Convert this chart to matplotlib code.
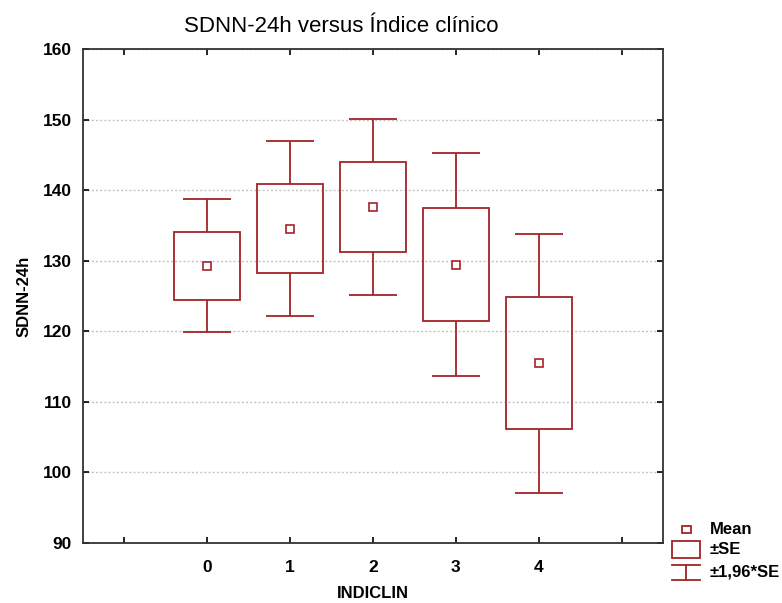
import numpy as np
import matplotlib
matplotlib.use('Agg')
import matplotlib.pyplot as plt
from matplotlib.patches import Rectangle

# Datos
grupos = [0, 1, 2, 3, 4]
medias = [129.3, 134.55, 137.6, 129.45, 115.45]
se = [4.8, 6.35, 6.35, 8.05, 9.35]
factor = 1.96

rojo = '#a32428'

plt.rcParams['font.family'] = ['Liberation Sans', 'DejaVu Sans']

fig = plt.figure(figsize=(7.82, 6.03), dpi=100)
ax = fig.add_axes([83 / 782, 1 - 543 / 603, 580 / 782, 494 / 603])

x = np.array(grupos, dtype=float)
m = np.array(medias)
s = np.array(se)

# caja +-SE
ax.bar(x, 2 * s, bottom=m - s, width=0.8, fill=False, edgecolor=rojo, linewidth=1.3, zorder=3)
# bigotes +-1.96*SE
ax.vlines(x, m + s, m + factor * s, color=rojo, linewidth=1.3, zorder=3)
ax.vlines(x, m - factor * s, m - s, color=rojo, linewidth=1.3, zorder=3)
ax.hlines(m + factor * s, x - 0.29, x + 0.29, color=rojo, linewidth=1.3, zorder=3)
ax.hlines(m - factor * s, x - 0.29, x + 0.29, color=rojo, linewidth=1.3, zorder=3)
# media
ax.plot(x, m, linestyle='none', marker='s', markersize=5.5, markerfacecolor='white',
        markeredgecolor=rojo, markeredgewidth=1.2, zorder=4)

ax.set_xlim(-1.5, 5.5)
ax.set_ylim(90, 160)
ax.set_xticks(range(-1, 6))
ax.set_xticklabels(['', '0', '1', '2', '3', '4', ''])
ax.set_yticks(range(90, 161, 10))
ax.grid(axis='y', linestyle=(0, (1.5, 1.5)), color='#c4c4c4', linewidth=1, zorder=0)
ax.tick_params(direction='in', length=4, width=1.2, top=True, right=True, labelsize=12.5)
ax.tick_params(axis='x', pad=12)
ax.tick_params(axis='y', pad=8)
for lab in ax.get_xticklabels() + ax.get_yticklabels():
    lab.set_fontweight('bold')
for sp in ax.spines.values():
    sp.set_linewidth(1.3)
    sp.set_color('#333333')

ax.set_ylabel('SDNN-24h', fontsize=12, fontweight='bold', labelpad=8)
ax.set_xlabel('INDICLIN', fontsize=12, fontweight='bold', labelpad=8)

fig.text(341 / 782, 1 - 26 / 603, 'SDNN-24h versus Índice clínico', ha='center', va='center',
         fontsize=16)

# leyenda manual
lg = fig.add_axes([0, 0, 1, 1])
lg.set_xlim(0, 782)
lg.set_ylim(603, 0)
lg.axis('off')
lg.add_patch(Rectangle((682, 526), 9, 7, fill=False, edgecolor=rojo, linewidth=1.3))
lg.add_patch(Rectangle((672, 541), 28, 17, fill=False, edgecolor=rojo, linewidth=1.3))
lg.plot([672, 700], [565, 565], color=rojo, linewidth=1.3)
lg.plot([672, 700], [580, 580], color=rojo, linewidth=1.3)
lg.plot([686, 686], [565, 580], color=rojo, linewidth=1.3)
lg.text(710, 529, 'Mean', fontsize=12, fontweight='bold', va='center')
lg.text(710, 550, '±SE', fontsize=12, fontweight='bold', va='center')
lg.text(710, 572, '±1,96*SE', fontsize=12, fontweight='bold', va='center')

fig.savefig('out.png', dpi=100)
